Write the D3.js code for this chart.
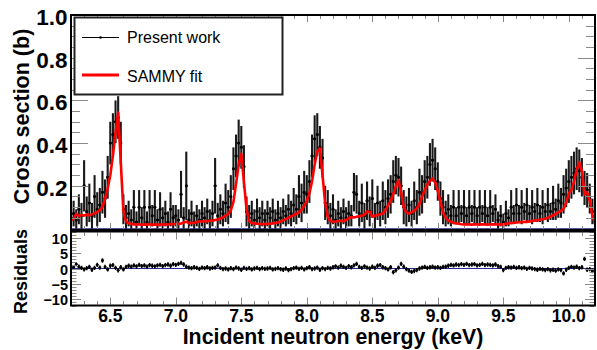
<!DOCTYPE html>
<html>
<head>
<meta charset="utf-8">
<script src="https://cdn.jsdelivr.net/npm/d3@7"></script>
<style>
  html, body { margin: 0; padding: 0; background: #fff; }
  svg { display: block; }
  text { font-family: "Liberation Sans", Arial, Helvetica, sans-serif; }
</style>
</head>
<body>
<svg id="chart" width="597" height="350"></svg>
<script>
// Energy bins (keV): centres from 6.20 to 10.20 in 0.02 keV steps
const energyStart = 6.2;
const energyStep = 0.02;
const nBins = 201;

// Measured cross section (b), one row per 0.2 keV
const crossSection = [
  0.05, 0.07, 0.04, 0.09, 0.06, 0.20, 0.08, 0.12, 0.06, 0.15,
  0.09, 0.11, 0.17, 0.14, 0.24, 0.40, 0.44, 0.50, 0.52, 0.40,
  0.09, 0.05, 0.07, 0.04, 0.10, 0.03, 0.10, 0.05, 0.10, 0.03,
  0.10, 0.06, 0.10, 0.04, 0.09, 0.05, 0.07, 0.03, 0.09, 0.05,
  0.06, 0.04, 0.16, 0.05, 0.20, 0.04, 0.07, 0.03, 0.06, 0.04,
  0.07, 0.05, 0.08, 0.04, 0.07, 0.20, 0.06, 0.09, 0.07, 0.12,
  0.10, 0.15, 0.28, 0.34, 0.40, 0.38, 0.29, 0.08, 0.05, 0.07,
  0.04, 0.08, 0.05, 0.07, 0.04, 0.07, 0.05, 0.08, 0.04, 0.07,
  0.05, 0.08, 0.06, 0.09, 0.07, 0.11, 0.09, 0.15, 0.12, 0.17,
  0.16, 0.22, 0.34, 0.42, 0.44, 0.38, 0.33, 0.12, 0.10, 0.06,
  0.09, 0.04, 0.07, 0.05, 0.08, 0.05, 0.07, 0.06, 0.17, 0.16,
  0.07, 0.12, 0.06, 0.13, 0.08, 0.14, 0.06, 0.12, 0.07, 0.13,
  0.10, 0.14, 0.16, 0.22, 0.25, 0.24, 0.20, 0.10, 0.08, 0.11,
  0.07, 0.13, 0.10, 0.17, 0.16, 0.22, 0.24, 0.30, 0.32, 0.28,
  0.22, 0.14, 0.10, 0.07, 0.09, 0.06, 0.10, 0.06, 0.10, 0.07,
  0.10, 0.06, 0.10, 0.07, 0.10, 0.06, 0.10, 0.07, 0.10, 0.06,
  0.10, 0.07, 0.09, 0.04, 0.06, 0.03, 0.07, 0.05, 0.10, 0.07,
  0.11, 0.07, 0.10, 0.08, 0.11, 0.07, 0.10, 0.08, 0.11, 0.07,
  0.10, 0.08, 0.11, 0.08, 0.12, 0.09, 0.13, 0.12, 0.16, 0.19,
  0.22, 0.24, 0.26, 0.28, 0.27, 0.24, 0.19, 0.18, 0.14, 0.08,
  0.05
];

// Uncertainty on the measured cross section (b)
const crossSectionErr = [
  0.05, 0.06, 0.05, 0.07, 0.06, 0.12, 0.07, 0.09, 0.06, 0.10,
  0.08, 0.08, 0.10, 0.09, 0.10, 0.10, 0.10, 0.10, 0.10, 0.10,
  0.07, 0.06, 0.06, 0.05, 0.08, 0.05, 0.08, 0.05, 0.08, 0.05,
  0.08, 0.05, 0.08, 0.05, 0.08, 0.05, 0.06, 0.05, 0.08, 0.06,
  0.05, 0.05, 0.11, 0.05, 0.16, 0.05, 0.06, 0.05, 0.05, 0.05,
  0.06, 0.05, 0.06, 0.05, 0.06, 0.13, 0.06, 0.07, 0.06, 0.09,
  0.08, 0.10, 0.10, 0.10, 0.11, 0.10, 0.10, 0.07, 0.06, 0.06,
  0.05, 0.06, 0.05, 0.06, 0.05, 0.06, 0.05, 0.06, 0.05, 0.06,
  0.05, 0.06, 0.05, 0.07, 0.06, 0.08, 0.07, 0.10, 0.09, 0.10,
  0.09, 0.10, 0.10, 0.11, 0.10, 0.10, 0.09, 0.08, 0.08, 0.06,
  0.07, 0.05, 0.06, 0.05, 0.06, 0.05, 0.06, 0.05, 0.09, 0.09,
  0.06, 0.09, 0.06, 0.09, 0.07, 0.09, 0.06, 0.08, 0.06, 0.09,
  0.08, 0.09, 0.09, 0.10, 0.09, 0.09, 0.09, 0.08, 0.07, 0.08,
  0.06, 0.09, 0.08, 0.11, 0.09, 0.10, 0.10, 0.10, 0.10, 0.10,
  0.09, 0.08, 0.08, 0.06, 0.07, 0.05, 0.08, 0.04, 0.08, 0.04,
  0.08, 0.04, 0.08, 0.04, 0.08, 0.04, 0.08, 0.04, 0.08, 0.04,
  0.08, 0.04, 0.07, 0.04, 0.05, 0.04, 0.06, 0.04, 0.08, 0.04,
  0.08, 0.04, 0.08, 0.04, 0.08, 0.04, 0.08, 0.04, 0.08, 0.04,
  0.08, 0.04, 0.08, 0.04, 0.08, 0.05, 0.08, 0.07, 0.09, 0.09,
  0.10, 0.10, 0.10, 0.10, 0.10, 0.09, 0.08, 0.08, 0.07, 0.06,
  0.05
];

// SAMMY resonance fit (b)
const sammyFit = [
  0.039, 0.045, 0.068, 0.058, 0.064, 0.060, 0.066, 0.061, 0.066, 0.071,
  0.078, 0.086, 0.100, 0.140, 0.186, 0.250, 0.340, 0.450, 0.543, 0.310,
  0.080, 0.032, 0.025, 0.022, 0.019, 0.018, 0.020, 0.017, 0.019, 0.018,
  0.020, 0.017, 0.019, 0.018, 0.017, 0.020, 0.019, 0.018, 0.021, 0.020,
  0.022, 0.021, 0.023, 0.028, 0.032, 0.025, 0.027, 0.026, 0.030, 0.034,
  0.032, 0.035, 0.034, 0.037, 0.036, 0.040, 0.042, 0.046, 0.052, 0.060,
  0.068, 0.085, 0.125, 0.210, 0.300, 0.350, 0.220, 0.090, 0.035, 0.026,
  0.024, 0.022, 0.021, 0.020, 0.022, 0.021, 0.023, 0.024, 0.026, 0.028,
  0.033, 0.038, 0.044, 0.050, 0.057, 0.063, 0.068, 0.075, 0.088, 0.105,
  0.130, 0.165, 0.220, 0.300, 0.360, 0.375, 0.250, 0.120, 0.055, 0.035,
  0.031, 0.033, 0.035, 0.036, 0.034, 0.040, 0.048, 0.054, 0.052, 0.055,
  0.058, 0.060, 0.064, 0.080, 0.078, 0.055, 0.060, 0.063, 0.066, 0.070,
  0.085, 0.108, 0.128, 0.160, 0.200, 0.225, 0.170, 0.100, 0.075, 0.070,
  0.075, 0.082, 0.095, 0.115, 0.150, 0.180, 0.205, 0.222, 0.235, 0.215,
  0.175, 0.125, 0.075, 0.050, 0.038, 0.031, 0.027, 0.024, 0.022, 0.020,
  0.019, 0.020, 0.019, 0.018, 0.020, 0.019, 0.018, 0.020, 0.019, 0.018,
  0.019, 0.020, 0.019, 0.020, 0.018, 0.019, 0.022, 0.024, 0.027, 0.026,
  0.028, 0.029, 0.030, 0.031, 0.031, 0.033, 0.035, 0.037, 0.039, 0.041,
  0.043, 0.046, 0.050, 0.056, 0.062, 0.068, 0.075, 0.082, 0.092, 0.120,
  0.165, 0.180, 0.220, 0.275, 0.310, 0.270, 0.160, 0.170, 0.130, 0.060,
  0.023
];

// Normalised residuals (data - fit) / uncertainty
const residuals = [
  -0.2, 0.4, 1.4, 0.6, 0.2, -0.3, 0.1, 0.5, -0.4, 0.2,
  1.2, 0.3, 2.6, 0.5, -0.3, 0.9, 1.1, 0.2, -0.6, 0.4,
  -0.3, 0.5, 0.9, 0.6, 1.0, 0.7, 1.2, 0.8, 1.0, 0.6,
  1.1, 0.9, 0.7, 1.0, 1.2, 0.8, 1.1, 1.3, 0.9, 1.4,
  1.2, 1.5, 1.8, 1.3, 0.6, 0.3, 0.1, 0.4, 0.2, -0.1,
  0.3, 0.1, 0.4, 0.0, 0.2, 0.3, 1.0, 0.2, -0.2, 0.0,
  -0.3, 0.1, -0.2, 0.3, 0.0, -0.4, 0.2, -0.1, 0.1, -0.3,
  0.0, 0.2, -0.2, 0.1, -0.1, 0.0, 0.2, -0.3, -0.1, 0.1,
  -0.2, -0.4, 0.0, -0.5, -0.2, 0.1, 0.3, -0.1, 0.2, -0.3,
  0.1, 0.4, -0.2, 0.0, 0.3, -0.4, 0.1, -0.2, 0.2, 0.0,
  0.4, 0.7, 0.3, 0.9, 0.5, 0.2, 0.8, 0.4, 1.0, 1.5,
  0.5, 0.2, 0.7, 0.3, 0.0, 0.6, 0.2, 0.9, 1.1, 0.4,
  0.1, -0.3, 0.4, -1.2, -0.6, 0.3, 1.5, 0.6, -0.2, -0.7,
  -1.1, -0.8, -0.5, 0.0, 0.3, 0.5, 0.2, 0.4, 0.6, 0.3,
  0.4, 0.2, 0.5, 0.6, 0.9, 1.2, 1.0, 1.3, 1.1, 1.4,
  1.2, 1.5, 1.1, 1.3, 1.4, 1.0, 1.2, 1.5, 1.1, 1.3,
  1.2, 1.0, 1.3, 0.8, 0.5, -0.5, 0.2, 0.4, 0.3, 0.5,
  0.2, 0.4, 0.1, 0.3, -0.1, 0.2, 0.0, -0.2, -0.4, -0.1,
  -0.3, -0.5, -0.2, -0.6, -0.4, -0.7, -0.3, -0.5, -1.6, -0.4,
  0.2, 0.5, 0.3, 0.6, 0.1, 0.4, 3.1, -0.4, -0.2, -0.8,
  -0.5
];

// Axis tick labels
const xTickValues = [6.5, 7.0, 7.5, 8.0, 8.5, 9.0, 9.5, 10.0];
const yTopTickValues = [0.2, 0.4, 0.6, 0.8, 1.0];
const yBottomTickValues = [-10, -5, 0, 5, 10];
const legendLabels = ["Present work", "SAMMY fit"];
const xTitle = "Incident neutron energy (keV)";
const yTopTitle = "Cross section (b)";
const yBottomTitle = "Residuals";

const energies = d3.range(nBins).map(i => energyStart + energyStep * i);
const points = energies.map((e, i) => ({
  e, y: crossSection[i], err: crossSectionErr[i], fit: sammyFit[i], res: residuals[i]
}));

const svg = d3.select("#chart");
const L = 71, R = 595;
const topPanel = { top: 15, bottom: 230 };
const botPanel = { top: 231.5, bottom: 305.5 };

const x = d3.scaleLinear().domain([6.2, 10.2]).range([L, R]);
const yTop = d3.scaleLinear().domain([0, 1]).range([228.5, 15]);
const yBot = d3.scaleLinear().domain([-12, 12]).range([305.5, 231.5]);

// Clip regions for the two pads
const defs = svg.append("defs");
defs.append("clipPath").attr("id", "clipTop")
  .append("rect").attr("x", L).attr("y", topPanel.top).attr("width", R - L).attr("height", topPanel.bottom - topPanel.top);
defs.append("clipPath").attr("id", "clipBot")
  .append("rect").attr("x", L).attr("y", botPanel.top).attr("width", R - L).attr("height", botPanel.bottom - botPanel.top);

// ---------- Upper pad: cross section ----------
const gTop = svg.append("g").attr("clip-path", "url(#clipTop)");

gTop.append("line")
  .attr("x1", L).attr("x2", R)
  .attr("y1", yTop(0)).attr("y2", yTop(0))
  .attr("stroke", "#2a2a8a").attr("stroke-width", 0.8);

const halfBin = energyStep / 2;
const dataG = gTop.append("g").attr("stroke", "#000").attr("fill", "#000");
dataG.selectAll("line.vbar").data(points).join("line")
  .attr("class", "vbar")
  .attr("x1", d => x(d.e)).attr("x2", d => x(d.e))
  .attr("y1", d => yTop(Math.max(d.y - d.err, 0))).attr("y2", d => yTop(d.y + d.err))
  .attr("stroke-width", 2.1).attr("stroke-opacity", 0.9);
dataG.selectAll("line.hbar").data(points).join("line")
  .attr("class", "hbar")
  .attr("x1", d => x(d.e - halfBin)).attr("x2", d => x(d.e + halfBin))
  .attr("y1", d => yTop(d.y)).attr("y2", d => yTop(d.y))
  .attr("stroke-width", 1.8);
dataG.selectAll("circle").data(points).join("circle")
  .attr("cx", d => x(d.e)).attr("cy", d => yTop(d.y)).attr("r", 1.5)
  .attr("stroke", "none");

gTop.append("path")
  .datum(points)
  .attr("fill", "none")
  .attr("stroke", "#ff0000")
  .attr("stroke-width", 2.6)
  .attr("stroke-linejoin", "round")
  .attr("d", d3.line().x(d => x(d.e)).y(d => yTop(d.fit)));

// ---------- Lower pad: residuals ----------
const gBot = svg.append("g").attr("clip-path", "url(#clipBot)");
gBot.append("line")
  .attr("x1", L).attr("x2", R)
  .attr("y1", yBot(0)).attr("y2", yBot(0))
  .attr("stroke", "#2a2a9a").attr("stroke-width", 1);
const resG = gBot.append("g").attr("stroke", "#000").attr("fill", "#000");
resG.selectAll("line.vbar").data(points).join("line")
  .attr("class", "vbar")
  .attr("x1", d => x(d.e)).attr("x2", d => x(d.e))
  .attr("y1", d => yBot(d.res - 0.7)).attr("y2", d => yBot(d.res + 0.7))
  .attr("stroke-width", 1.5);
resG.selectAll("line.hbar").data(points).join("line")
  .attr("class", "hbar")
  .attr("x1", d => x(d.e - halfBin)).attr("x2", d => x(d.e + halfBin))
  .attr("y1", d => yBot(d.res)).attr("y2", d => yBot(d.res))
  .attr("stroke-width", 1.5);
resG.selectAll("circle").data(points).join("circle")
  .attr("cx", d => x(d.e)).attr("cy", d => yBot(d.res)).attr("r", 1.4)
  .attr("stroke", "none");

// ---------- Ticks (drawn inward on all four sides) ----------
const tickColor = "#8a8a8a";
const gTicks = svg.append("g").attr("stroke", tickColor).attr("stroke-width", 1);
function crisp(v) { return Math.round(v) + 0.5; }

const xMinor = d3.range(62, 103).map(i => i / 10);
function isMajorX(v) { return Math.abs(v * 2 - Math.round(v * 2)) < 1e-6; }

// upper pad x ticks (bottom and top edges)
xMinor.forEach(v => {
  const px = crisp(x(v));
  const len = isMajorX(v) ? 6 : 3;
  gTicks.append("line").attr("x1", px).attr("x2", px).attr("y1", topPanel.bottom - 1).attr("y2", topPanel.bottom - 1 - len);
  gTicks.append("line").attr("x1", px).attr("x2", px).attr("y1", topPanel.top + 1).attr("y2", topPanel.top + 1 + len);
});
// upper pad y ticks (left and right edges)
d3.range(0, 21).map(i => i * 0.05).forEach((v, i) => {
  const py = crisp(yTop(v));
  const len = (i % 4 === 0) ? 16 : 8;
  gTicks.append("line").attr("x1", L + 1).attr("x2", L + 1 + len).attr("y1", py).attr("y2", py);
  gTicks.append("line").attr("x1", R - 1).attr("x2", R - 1 - len).attr("y1", py).attr("y2", py);
});
// lower pad x ticks
xMinor.forEach(v => {
  const px = crisp(x(v));
  const len = isMajorX(v) ? 7 : 3.5;
  gTicks.append("line").attr("x1", px).attr("x2", px).attr("y1", botPanel.bottom - 1).attr("y2", botPanel.bottom - 1 - len);
  gTicks.append("line").attr("x1", px).attr("x2", px).attr("y1", botPanel.top + 1).attr("y2", botPanel.top + 1 + len);
});
// lower pad y ticks
d3.range(-12, 13).forEach(v => {
  const py = crisp(yBot(v));
  const len = (v % 5 === 0) ? 9 : 4.5;
  gTicks.append("line").attr("x1", L + 1).attr("x2", L + 1 + len).attr("y1", py).attr("y2", py);
  gTicks.append("line").attr("x1", R - 1).attr("x2", R - 1 - len).attr("y1", py).attr("y2", py);
});

// ---------- Frames ----------
svg.append("rect")
  .attr("x", L).attr("y", topPanel.top).attr("width", R - L).attr("height", topPanel.bottom - topPanel.top)
  .attr("fill", "none").attr("stroke", "#000").attr("stroke-width", 2);
svg.append("rect")
  .attr("x", L).attr("y", botPanel.top).attr("width", R - L).attr("height", botPanel.bottom - botPanel.top)
  .attr("fill", "none").attr("stroke", "#000").attr("stroke-width", 2);

// ---------- Tick labels ----------
const fmt1 = d3.format(".1f");
svg.append("g").selectAll("text").data(yTopTickValues).join("text")
  .attr("x", 67.5).attr("y", d => yTop(d) + 10)
  .attr("text-anchor", "end").attr("font-weight", "bold").attr("font-size", "22.5px")
  .text(d => fmt1(d));

svg.append("g").selectAll("text").data(yBottomTickValues).join("text")
  .attr("x", 68).attr("y", d => yBot(d) + 6)
  .attr("text-anchor", "end").attr("font-weight", "bold").attr("font-size", "14.5px")
  .text(d => d < 0 ? "\u2212" + Math.abs(d) : String(d));

svg.append("g").selectAll("text").data(xTickValues).join("text")
  .attr("x", d => x(d)).attr("y", 321.5)
  .attr("text-anchor", "middle").attr("font-weight", "bold").attr("font-size", "17.5px")
  .text(d => fmt1(d));

// ---------- Axis titles ----------
svg.append("text")
  .attr("x", (L + R) / 2).attr("y", 343.5)
  .attr("text-anchor", "middle").attr("font-weight", "bold").attr("font-size", "21.3px")
  .text(xTitle);

svg.append("text")
  .attr("transform", "translate(28.5,116.5) rotate(-90)")
  .attr("text-anchor", "middle").attr("font-weight", "bold").attr("font-size", "21.5px")
  .text(yTopTitle);

svg.append("text")
  .attr("transform", "translate(27,271.5) rotate(-90)")
  .attr("text-anchor", "middle").attr("font-weight", "bold").attr("font-size", "18px")
  .text(yBottomTitle);

// ---------- Legend ----------
const leg = svg.append("g");
leg.append("rect")
  .attr("x", 74.5).attr("y", 17.5).attr("width", 208).attr("height", 77)
  .attr("fill", "#fff").attr("stroke", "#222").attr("stroke-width", 2);
leg.append("line")
  .attr("x1", 82).attr("x2", 119).attr("y1", 37.5).attr("y2", 37.5)
  .attr("stroke", "#000").attr("stroke-width", 1);
leg.append("circle").attr("cx", 100.5).attr("cy", 37.5).attr("r", 1.3).attr("fill", "#000");
leg.append("line")
  .attr("x1", 82).attr("x2", 119).attr("y1", 75).attr("y2", 75)
  .attr("stroke", "#ff0000").attr("stroke-width", 3);
leg.selectAll("text").data(legendLabels).join("text")
  .attr("x", 127).attr("y", (d, i) => i === 0 ? 43 : 81.5)
  .attr("font-size", "16px")
  .text(d => d);
</script>
</body>
</html>
